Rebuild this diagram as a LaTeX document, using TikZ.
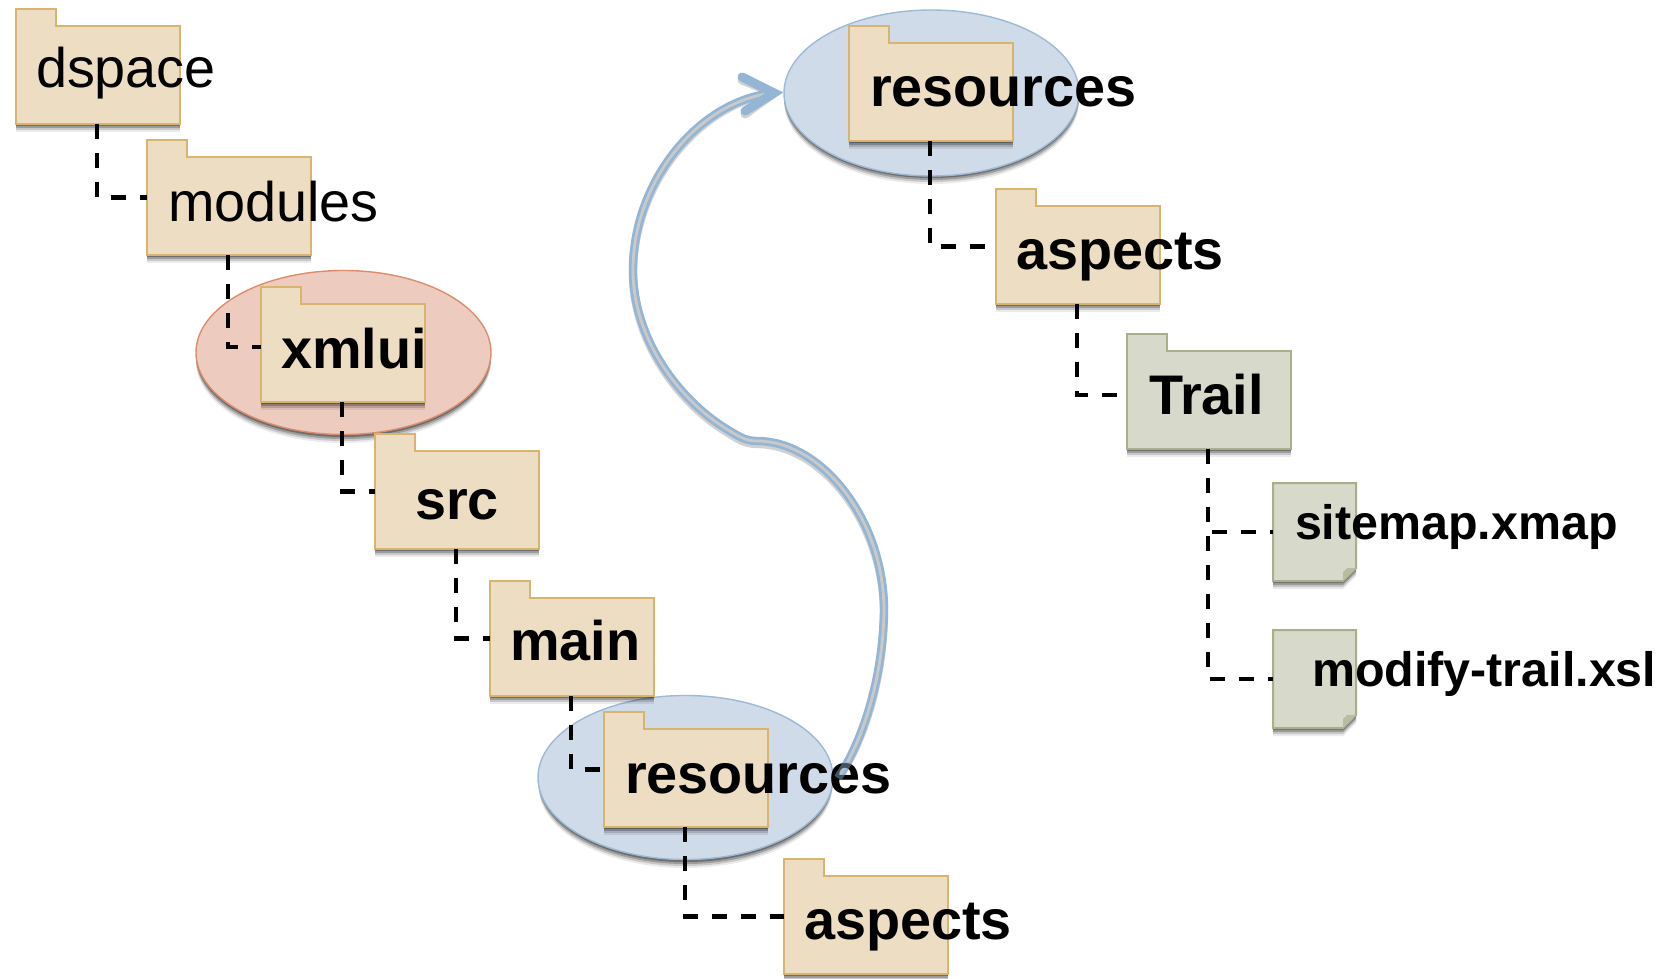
\documentclass[tikz,border=0pt]{standalone}
\usepackage{fontspec}
\setmainfont{Liberation Sans}
\usetikzlibrary{shapes.geometric,calc}
\definecolor{folderfill}{HTML}{EDDDC3}
\definecolor{folderline}{HTML}{D8B56E}
\definecolor{greenfill}{HTML}{D7DACB}
\definecolor{greenline}{HTML}{A9AF8B}
\definecolor{foldcol}{HTML}{B9BCA2}
\definecolor{bluefill}{HTML}{D0DBE9}
\definecolor{blueline}{HTML}{9DBAD5}
\definecolor{redfill}{HTML}{EECBBF}
\definecolor{redline}{HTML}{DA8E6E}
\definecolor{arrowcol}{HTML}{94B6D4}
\definecolor{arrowcore}{HTML}{C9C9C9}
\tikzset{
  box/.style={inner sep=0pt,outer sep=0pt,minimum width=82pt,minimum height=57.5pt,anchor=north west},
  filebox/.style={inner sep=0pt,outer sep=0pt,minimum width=41.5pt,minimum height=49pt,anchor=north west},
  oval/.style={ellipse,inner sep=0pt,outer sep=0pt,minimum width=147.5pt,minimum height=82pt,line width=.7pt},
  label/.style={inner sep=0pt,outer sep=0pt,anchor=base west,text=black,font=\fontsize{27.9}{30}\selectfont},
  blabel/.style={label,font=\fontsize{27.9}{30}\selectfont\bfseries},
  slabel/.style={label,font=\fontsize{24.2}{26}\selectfont\bfseries},
  tree/.style={draw=black,line width=2.3pt,dash pattern=on 7.5pt off 7pt},
  treeshadow/.style={draw=black,line width=2.3pt,dash pattern=on 7.5pt off 7pt,opacity=.22,yshift=-2pt},
}
% soft drop shadow below a closed path
\newcommand{\softshadow}[1]{%
  \foreach \s/\o in {1/.30,2/.22,3/.15,4/.08}{%
    \fill[black,opacity=\o,yshift=-\s pt] #1;}}
\newcommand{\folder}[5]{% name, x, y, fill, line
  \node[box] (#1) at (#2,#3) {};
  \softshadow{(#2,#3+17) -- ++(164,0) -- ++(0,98) -- ++(-164,0) -- cycle}
  \filldraw[fill=#4,draw=#5,line width=1pt,line join=miter]
    (#2,#3) -- ++(40,0) -- ++(0,17) -- ++(124,0) -- ++(0,98) -- ++(-164,0) -- cycle;
}
\newcommand{\docfile}[5]{% name, x, y, fill, line
  \node[filebox] (#1) at (#2,#3) {};
  \softshadow{(#2,#3) -- ++(83,0) -- ++(0,85) -- ++(-13,13) -- ++(-70,0) -- cycle}
  \filldraw[fill=#4,draw=#5,line width=1pt,line join=miter]
    (#2,#3) -- ++(83,0) -- ++(0,85) -- ++(-13,13) -- ++(-70,0) -- cycle;
  \fill[foldcol] (#2+83,#3+85) -- ++(-13,13) -- ++(0,-9) -- ++(4,-4) -- cycle;
}
\newcommand{\treelink}[3][0pt]{%
  \draw[treeshadow] ([xshift=-.5pt]#2.south) |- ([yshift=#1]#3.west);
  \draw[tree] ([xshift=-.5pt]#2.south) |- ([yshift=#1]#3.west);
}
\begin{document}
\begin{tikzpicture}[x=.5pt,y=-.5pt]
\useasboundingbox (0,0) rectangle (1666,979);

% highlight ellipses
\softshadow{(343.5,353) ellipse [x radius=73.75pt,y radius=41pt]}
\softshadow{(685.5,778) ellipse [x radius=73.5pt,y radius=41pt]}
\softshadow{(931.5,93) ellipse [x radius=73.75pt,y radius=41.5pt]}
\node[oval,fill=redfill,draw=redline] (hlxmlui) at (343.5,352.5) {};
\node[oval,fill=bluefill,draw=blueline] (hllow) at (685.5,777.5) {};
\node[oval,fill=bluefill,draw=blueline,minimum height=83pt] (hltop) at (931.5,93) {};

% folders
\folder{dspace}{16}{9}{folderfill}{folderline}
\folder{modules}{147}{140}{folderfill}{folderline}
\folder{xmlui}{261}{287}{folderfill}{folderline}
\folder{src}{375}{434}{folderfill}{folderline}
\folder{main}{490}{581}{folderfill}{folderline}
\folder{reslow}{604}{712}{folderfill}{folderline}
\folder{asplow}{784}{859}{folderfill}{folderline}
\folder{restop}{849}{26}{folderfill}{folderline}
\folder{asptop}{996}{189}{folderfill}{folderline}
\folder{trail}{1127}{334}{greenfill}{greenline}
\docfile{sitemap}{1273}{483}{greenfill}{greenline}
\docfile{modify}{1273}{630}{greenfill}{greenline}

% tree connectors
\treelink{dspace}{modules}
\treelink[-1.25pt]{modules}{xmlui}
\treelink{xmlui}{src}
\treelink{src}{main}
\treelink{main}{reslow}
\treelink{reslow}{asplow}
\treelink{restop}{asptop}
\treelink[-1.75pt]{asptop}{trail}
\treelink{trail}{sitemap}
\treelink{trail}{modify}

% curved double arrow
\coordinate (arrstart) at (838,778);
\coordinate (arrtip) at ([xshift=-5pt]hltop.west);
\draw[black,opacity=.18,line width=4.2pt,yshift=-1.5pt]
  (arrstart) .. controls (862,742) and (883,680) .. (884,610)
  .. controls (884,520) and (822,441) .. (757,441)
  .. controls (745,441) and (738,436) .. (725,428)
  .. controls (680,400) and (633,340) .. (633,270)
  .. controls (633,180) and (700,100) .. (arrtip);
\draw[line width=4.5pt,line cap=round,miter limit=10,black,opacity=.18,yshift=-1.5pt]
  (742,77) -- (arrtip) -- (745,111);
\draw[arrowcol,line width=1.4pt,double=arrowcore,double distance=1.4pt]
  (arrstart) .. controls (862,742) and (883,680) .. (884,610)
  .. controls (884,520) and (822,441) .. (757,441)
  .. controls (745,441) and (738,436) .. (725,428)
  .. controls (680,400) and (633,340) .. (633,270)
  .. controls (633,180) and (700,100) .. (arrtip);
\draw[arrowcol,line width=4.5pt,line cap=round,miter limit=10]
  (742,77) -- (arrtip) -- (745,111);

% labels
\node[label] (tdspace) at (36,88) {dspace};
\node[label] (tmodules) at (168,221) {modules};
\node[blabel] (txmlui) at (281,368) {xmlui};
\node[blabel] (tsrc) at (415,519) {src};
\node[blabel] (tmain) at (510,660) {main};
\node[blabel] (treslow) at (625,793) {resources};
\node[blabel] (tasplow) at (804,939) {aspects};
\node[blabel] (trestop) at (870,107) {resources};
\node[blabel] (tasptop) at (1016,269) {aspects};
\node[blabel] (ttrail) at (1149,414) {Trail};
\node[slabel] (tsitemap) at (1295,539) {sitemap.xmap};
\node[slabel] (tmodify) at (1312,686) {modify-trail.xsl};

% arrow tail shows over the label it touches
\draw[arrowcol,opacity=.45,line width=4.2pt] (arrstart) -- (848,762);
\end{tikzpicture}
\end{document}
